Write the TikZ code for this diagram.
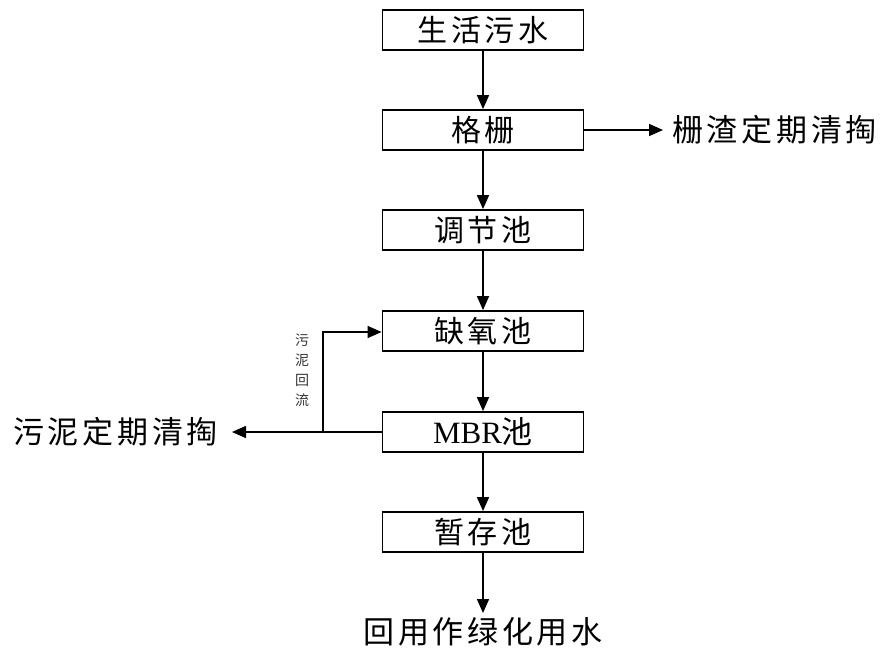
\documentclass[tikz,border=0pt]{standalone}
\usepackage{fontspec}
\setmainfont{Liberation Serif}
\newfontfamily\cjk[LetterSpace=12]{Noto Sans CJK SC}
\newfontfamily\cjkn{Noto Sans CJK SC}
\usetikzlibrary{arrows.meta}
\begin{document}
\begin{tikzpicture}[x=1pt,y=-1pt,
  box/.style={draw,line width=1.8pt,minimum width=201pt,minimum height=40pt,inner sep=0pt,font=\fontsize{30}{30}\selectfont\cjk},
  lbl/.style={inner sep=0pt,font=\fontsize{31}{31}\selectfont\cjk},
  arr/.style={line width=1.6pt,-{Triangle[length=14pt,width=12pt]}},
  ln/.style={line width=1.6pt}]
\useasboundingbox (0,0) rectangle (881,648);
\node[box] (b1) at (483,30) {生活污水};
\node[box] (b2) at (483,130) {格栅};
\node[box] (b3) at (483,230) {调节池};
\node[box] (b4) at (483,331) {缺氧池};
\node[box] (b5) at (483,432) {\rmfamily\fontsize{31}{31}\selectfont MBR\cjk 池};
\node[box] (b6) at (483,532) {暂存池};
\node[lbl,anchor=west] (t1) at (672,130) {栅渣定期清掏};
\node[lbl,anchor=east] (t2) at (218,432) {污泥定期清掏};
\node[lbl] (t3) at (483,632) {回用作绿化用水};
\node[inner sep=0pt,font=\fontsize{14}{20}\selectfont\cjkn,align=center,text=black!80] (t4) at (302,370) {污\\泥\\回\\流};
\coordinate (ra) at (323,432);
\coordinate (rb) at (323,332);
\coordinate (e1) at (663,130);
\coordinate (e2) at (232,432);
\coordinate (e3) at (483,613);
\draw[arr] (b1) -- (b2);
\draw[arr] (b2) -- (b3);
\draw[arr] (b3) -- (b4);
\draw[arr] (b4) -- (b5);
\draw[arr] (b5) -- (b6);
\draw[arr] (b6) -- (e3);
\draw[arr] (b2) -- (e1);
\draw[arr] (b5) -- (e2);
\draw[arr] (ra) -- (rb) -- (b4.west |- rb);
\end{tikzpicture}
\end{document}
